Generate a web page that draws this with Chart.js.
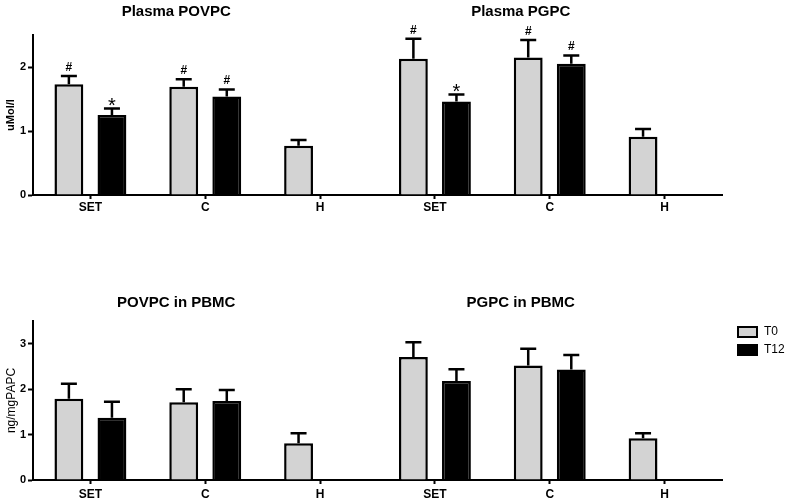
<!DOCTYPE html>
<html>
<head>
<meta charset="utf-8">
<script src="https://cdn.jsdelivr.net/npm/chart.js@4.4.0/dist/chart.umd.min.js"></script>
<style>
  body { margin: 0; background: #fff; }
  canvas { position: absolute; left: 0; }
  #plasma { top: 0; }
  #pbmc { top: 290px; }
</style>
</head>
<body>
<canvas id="plasma" width="791" height="220"></canvas>
<canvas id="pbmc" width="791" height="211"></canvas>
<script>
const categories = ['SET', 'C', 'H', 'SET', 'C', 'H'];
const seriesNames = ['T0', 'T12'];

// Plasma (uMol/l): POVPC groups first, PGPC groups second
const plasmaT0 = [1.73, 1.69, 0.77, 2.13, 2.15, 0.91];
const plasmaT12 = [1.25, 1.54, null, 1.46, 2.05, null];
const plasmaT0Err = [0.13, 0.12, 0.09, 0.31, 0.27, 0.12];
const plasmaT12Err = [0.10, 0.11, 0, 0.11, 0.13, 0];
const plasmaT0Marks = ['#', '#', '', '#', '#', ''];
const plasmaT12Marks = ['*', '#', '', '*', '#', ''];
const plasmaTicks = [0, 1, 2];
const plasmaTitles = ['Plasma POVPC', 'Plasma PGPC'];

// PBMC (ng/mgPAPC)
const pbmcT0 = [1.79, 1.71, 0.81, 2.71, 2.52, 0.92];
const pbmcT12 = [1.37, 1.74, null, 2.18, 2.43, null];
const pbmcT0Err = [0.33, 0.29, 0.22, 0.32, 0.37, 0.11];
const pbmcT12Err = [0.35, 0.24, 0, 0.26, 0.32, 0];
const pbmcTicks = [0, 1, 2, 3];
const pbmcTitles = ['POVPC in PBMC', 'PGPC in PBMC'];

const FONT = "'Liberation Sans', Arial, sans-serif";
const GREY = '#d3d3d3';

// error bars (upper only) + significance marks
const errorBars = {
  id: 'errorBars',
  afterDatasetsDraw(chart) {
    const ctx = chart.ctx;
    const yScale = chart.scales.y;
    chart.data.datasets.forEach((ds, di) => {
      const meta = chart.getDatasetMeta(di);
      meta.data.forEach((bar, i) => {
        const v = ds.data[i];
        if (v == null) return;
        const top = yScale.getPixelForValue(v + ds.errors[i]);
        ctx.save();
        ctx.strokeStyle = '#000';
        ctx.lineWidth = 2.5;
        ctx.beginPath();
        ctx.moveTo(bar.x, bar.y);
        ctx.lineTo(bar.x, top);
        ctx.moveTo(bar.x - 8, top);
        ctx.lineTo(bar.x + 8, top);
        ctx.stroke();
        const mark = ds.marks ? ds.marks[i] : '';
        ctx.fillStyle = '#000';
        ctx.textAlign = 'center';
        ctx.textBaseline = 'alphabetic';
        if (mark === '#') {
          ctx.font = 'bold 12px ' + FONT;
          ctx.fillText('#', bar.x, top - 5);
        } else if (mark === '*') {
          ctx.font = '20px ' + FONT;
          ctx.fillText('*', bar.x, top + 3);
        }
        ctx.restore();
      });
    });
  }
};

// panel titles over each group of three categories
const panelTitles = {
  id: 'panelTitles',
  afterDraw(chart, args, opts) {
    if (!opts.titles) return;
    const ctx = chart.ctx;
    const xScale = chart.scales.x;
    ctx.save();
    ctx.fillStyle = '#000';
    ctx.font = 'bold 15px ' + FONT;
    ctx.textAlign = 'center';
    ctx.textBaseline = 'middle';
    opts.titles.forEach((t, k) => {
      ctx.fillText(t, xScale.getPixelForValue(1 + 3 * k) - 29, opts.y);
    });
    ctx.restore();
  }
};

// legend at the right of the chart area
const sideLegend = {
  id: 'sideLegend',
  afterDraw(chart, args, opts) {
    if (!opts.show) return;
    const ctx = chart.ctx;
    const area = chart.chartArea;
    ctx.save();
    chart.data.datasets.forEach((ds, i) => {
      const x = area.right + 16;
      const y = area.top + 6 + i * 18;
      ctx.fillStyle = ds.backgroundColor;
      ctx.fillRect(x, y, 19, 10);
      ctx.strokeStyle = '#000';
      ctx.lineWidth = 2;
      ctx.strokeRect(x, y, 19, 10);
      ctx.fillStyle = '#000';
      ctx.font = '12px ' + FONT;
      ctx.textAlign = 'left';
      ctx.textBaseline = 'middle';
      ctx.fillText(ds.label, x + 26, y + 5);
    });
    ctx.restore();
  }
};

function dataset(label, color, values, errors, marks) {
  return {
    label: label,
    data: values,
    errors: errors,
    marks: marks,
    backgroundColor: color,
    borderColor: '#000',
    borderWidth: 2.5,
    categoryPercentage: 0.75,
    barPercentage: 0.67
  };
}

function makeChart(id, datasets, cfg) {
  return new Chart(document.getElementById(id), {
    type: 'bar',
    data: { labels: categories, datasets: datasets },
    plugins: [errorBars, panelTitles, sideLegend],
    options: {
      responsive: false,
      animation: false,
      layout: { padding: { top: cfg.padTop, right: 69, left: 0, bottom: 0 } },
      scales: {
        x: {
          afterFit: s => { s.height = cfg.xHeight; },
          border: { color: '#000', width: 2 },
          grid: { offset: false, drawOnChartArea: false, tickLength: 4, tickColor: '#000', tickWidth: 2 },
          ticks: { color: '#000', padding: cfg.xPad, maxRotation: 0, autoSkip: false,
                   font: { family: FONT, size: 12, weight: 'bold' } }
        },
        y: {
          min: 0,
          max: cfg.yMax,
          afterBuildTicks: s => { s.ticks = cfg.yTicks.map(v => ({ value: v })); },
          afterFit: s => { s.width = 33; },
          border: { color: '#000', width: 2 },
          grid: { drawOnChartArea: false, tickLength: 5, tickColor: '#000', tickWidth: 2 },
          ticks: { color: '#000', padding: 2, font: { family: FONT, size: 11, weight: 'bold' } },
          title: { display: true, text: cfg.yTitle, color: '#000', font: cfg.yTitleFont,
                   padding: { top: 4, bottom: 0 } }
        }
      },
      plugins: {
        legend: { display: false },
        tooltip: { enabled: false },
        panelTitles: { titles: cfg.titles, y: cfg.titleY },
        sideLegend: { show: cfg.legend }
      }
    }
  });
}

makeChart('plasma', [
  dataset(seriesNames[0], GREY, plasmaT0, plasmaT0Err, plasmaT0Marks),
  dataset(seriesNames[1], '#000', plasmaT12, plasmaT12Err, plasmaT12Marks)
], {
  padTop: 35, xHeight: 25, xPad: 1, yMax: 2.5, yTicks: plasmaTicks,
  yTitle: 'uMol/l', yTitleFont: { family: FONT, size: 11, weight: 'bold' },
  titles: plasmaTitles, titleY: 12, legend: false
});

makeChart('pbmc', [
  dataset(seriesNames[0], GREY, pbmcT0, pbmcT0Err, null),
  dataset(seriesNames[1], '#000', pbmcT12, pbmcT12Err, null)
], {
  padTop: 31, xHeight: 21, xPad: 3, yMax: 3.5, yTicks: pbmcTicks,
  yTitle: 'ng/mgPAPC', yTitleFont: { family: FONT, size: 12 },
  titles: pbmcTitles, titleY: 13, legend: true
});
</script>
</body>
</html>
